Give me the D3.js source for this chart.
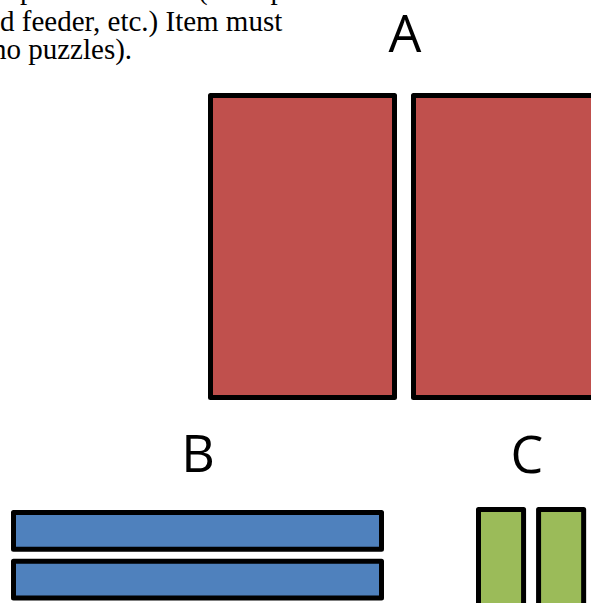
<!DOCTYPE html>
<html>
<head>
<meta charset="utf-8">
<script src="https://cdn.jsdelivr.net/npm/d3@7"></script>
<style>
    body { margin: 0; background: #fff; overflow: hidden; }
    .note { font-family: "Liberation Serif", "Times New Roman", serif; font-size: 29px; fill: #000; }
    .label { font-family: "Open Sans", Calibri, sans-serif; font-size: 52px; fill: #000; }
    .piece { stroke: #000; stroke-width: 5; stroke-linejoin: round; }
</style>
</head>
<body>
<div id="chart"></div>
<script>
// pieces per group, sizes in grid units
const groups = ['A', 'B', 'C'];
const pieceWidths = [4, 8, 0.98];
const pieceHeights = [6.565, 0.8, 2.6];
const pieceCounts = [2, 2, 2];
const stacking = ['row', 'column', 'row'];
const colors = ['#C0504D', '#4F81BD', '#9BBB59'];

const noteLines = [
    'e pattern or item (example',
    'd feeder, etc.) Item must',
    'no puzzles).'
];

const width = 591;
const height = 603;

// where each group sits on the page
const layout = {
    A: { x: 210.5, y: 95.5, gap: 19, labelX: 405, labelY: 52 },
    B: { x: 13.5, y: 512.5, gap: 12, labelX: 198, labelY: 472 },
    C: { x: 478.5, y: 509.5, gap: 15, labelX: 527, labelY: 473 },
};

function drawChart() {
    const svg = d3.select('#chart')
        .append('svg')
        .attr('width', width)
        .attr('height', height);

    // one grid unit = 46px
    const unit = d3.scaleLinear().domain([0, 1]).range([0, 46]);

    // clipped paragraph in the top left corner (first line only shows descenders)
    const note = svg.append('g').attr('class', 'note-text');
    const lineStarts = [0, 0, -8];
    const baselines = [-1, 31, 59];
    note.selectAll('text')
        .data(noteLines)
        .join('text')
        .attr('class', 'note')
        .attr('x', (d, i) => lineStarts[i])
        .attr('y', (d, i) => baselines[i])
        .text((d) => d);

    const pieces = groups.flatMap((g, gi) =>
        d3.range(pieceCounts[gi]).map((k) => ({
            group: g,
            index: k,
            w: pieceWidths[gi],
            h: pieceHeights[gi],
            dir: stacking[gi],
            color: colors[gi],
        }))
    );

    svg.append('g')
        .selectAll('rect')
        .data(pieces)
        .join('rect')
        .attr('class', 'piece')
        .attr('x', (d) => {
            const L = layout[d.group];
            return d.dir === 'row' ? L.x + d.index * (unit(d.w) + L.gap) : L.x;
        })
        .attr('y', (d) => {
            const L = layout[d.group];
            return d.dir === 'column' ? L.y + d.index * (unit(d.h) + L.gap) : L.y;
        })
        .attr('width', (d) => unit(d.w))
        .attr('height', (d) => unit(d.h))
        .attr('fill', (d) => d.color);

    svg.append('g')
        .selectAll('text')
        .data(groups)
        .join('text')
        .attr('class', 'label')
        .attr('x', (d) => layout[d].labelX)
        .attr('y', (d) => layout[d].labelY)
        .attr('text-anchor', 'middle')
        .text((d) => d);
}

document.addEventListener('DOMContentLoaded', drawChart);
</script>
</body>
</html>
